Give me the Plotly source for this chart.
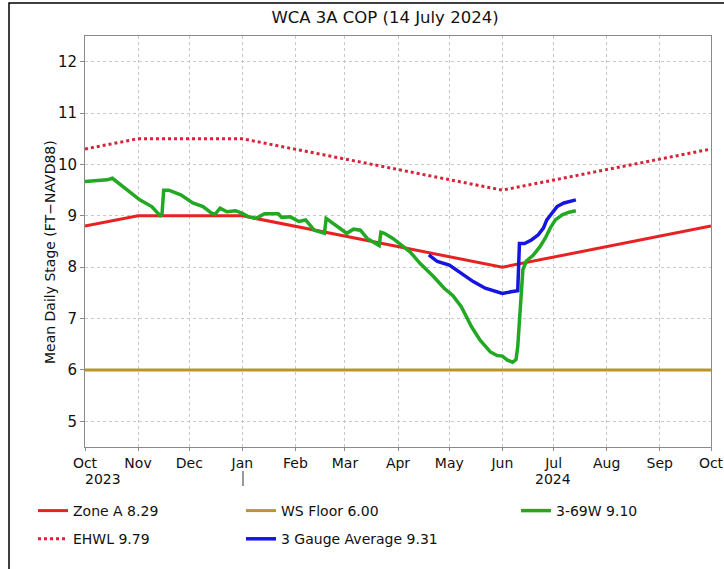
import plotly.graph_objects as go

# ---- data -------------------------------------------------------------
month_ticks = ["2023-10-01", "2023-11-01", "2023-12-01", "2024-01-01", "2024-02-01",
               "2024-03-01", "2024-04-01", "2024-05-01", "2024-06-01", "2024-07-01",
               "2024-08-01", "2024-09-01", "2024-10-01"]
month_labels = ["Oct", "Nov", "Dec", "Jan", "Feb", "Mar", "Apr", "May", "Jun", "Jul",
                "Aug", "Sep", "Oct"]

# regulation schedule breakpoints
sched_dates = ["2023-10-01", "2023-11-01", "2024-01-01", "2024-06-01", "2024-10-01"]
zone_a = [8.8, 9.0, 9.0, 8.0, 8.8]
ehwl = [10.3, 10.5, 10.5, 9.5, 10.3]

floor_dates = ["2023-10-01", "2024-10-01"]
ws_floor = [6.0, 6.0]

# gauge 3-69W mean daily stage
g369_dates = ["2023-10-01", "2023-10-10", "2023-10-14", "2023-10-17", "2023-10-23",
              "2023-10-28", "2023-11-02", "2023-11-09", "2023-11-12", "2023-11-14",
              "2023-11-15", "2023-11-16", "2023-11-19", "2023-11-26", "2023-12-03",
              "2023-12-09", "2023-12-14", "2023-12-16", "2023-12-19", "2023-12-23",
              "2023-12-28", "2024-01-01", "2024-01-04", "2024-01-09", "2024-01-14",
              "2024-01-22", "2024-01-24", "2024-01-29", "2024-02-03", "2024-02-07",
              "2024-02-12", "2024-02-18", "2024-02-19", "2024-02-26", "2024-03-02",
              "2024-03-06", "2024-03-10", "2024-03-14", "2024-03-21", "2024-03-22",
              "2024-03-24", "2024-03-29", "2024-04-04", "2024-04-08", "2024-04-14",
              "2024-04-22", "2024-04-28", "2024-05-03", "2024-05-08", "2024-05-14",
              "2024-05-19", "2024-05-25", "2024-05-29", "2024-06-01", "2024-06-04",
              "2024-06-07", "2024-06-09", "2024-06-10", "2024-06-11", "2024-06-12",
              "2024-06-13", "2024-06-15", "2024-06-19", "2024-06-23", "2024-06-26",
              "2024-06-29", "2024-07-02", "2024-07-06", "2024-07-10", "2024-07-14"]
g369 = [9.67, 9.68, 9.70, 9.73, 9.57,
        9.45, 9.31, 9.18, 9.08, 9.00,
        9.02, 9.50, 9.50, 9.41, 9.25,
        9.18, 9.05, 9.03, 9.15, 9.08,
        9.10, 9.05, 8.99, 8.95, 9.04,
        9.04, 8.97, 8.98, 8.89, 8.92,
        8.72, 8.66, 8.95, 8.79, 8.66,
        8.74, 8.72, 8.56, 8.42, 8.68,
        8.66, 8.56, 8.40, 8.30, 8.07,
        7.81, 7.59, 7.45, 7.23, 6.84,
        6.58, 6.35, 6.28, 6.27, 6.19,
        6.15, 6.20, 6.45, 6.95, 7.55,
        7.95, 8.12, 8.23, 8.40, 8.56,
        8.76, 8.92, 9.02, 9.07, 9.10]

# three gauge average
avg_dates = ["2024-04-19", "2024-04-24", "2024-05-01", "2024-05-08", "2024-05-15",
             "2024-05-22", "2024-05-27", "2024-06-01", "2024-06-06", "2024-06-10",
             "2024-06-11", "2024-06-14", "2024-06-18", "2024-06-22", "2024-06-25",
             "2024-06-27", "2024-06-30", "2024-07-03", "2024-07-07", "2024-07-11",
             "2024-07-14"]
avg3 = [8.24, 8.11, 8.04, 7.88, 7.72,
        7.59, 7.54, 7.49, 7.52, 7.54,
        8.46, 8.46, 8.53, 8.63, 8.76,
        8.92, 9.05, 9.18, 9.25, 9.29,
        9.31]

# ---- layout geometry (pixels) -----------------------------------------
W, H = 724, 569
L, R, T, B = 85, 711, 36, 447
PW, PH = R - L, B - T


def px(x):
    return (x - L) / PW


def py(y):
    return (B - y) / PH


FONT = "DejaVu Sans"

fig = go.Figure()

fig.add_trace(go.Scatter(x=floor_dates, y=ws_floor, mode="lines", name="WS Floor 6.00",
                         line=dict(color="#b8962c", width=3), legend="legend2",
                         legendgroup="b1"))
fig.add_trace(go.Scatter(x=sched_dates, y=zone_a, mode="lines", name="Zone A 8.29",
                         line=dict(color="#e62222", width=3), legend="legend",
                         legendgroup="a1"))
fig.add_trace(go.Scatter(x=sched_dates, y=ehwl, mode="lines", name="EHWL 9.79",
                         line=dict(color="#d4243a", width=3, dash="dot"), legend="legend",
                         legendgroup="a2"))
fig.add_trace(go.Scatter(x=g369_dates, y=g369, mode="lines", name="3-69W 9.10",
                         line=dict(color="#22a822", width=3.5), legend="legend3",
                         legendgroup="c1"))
fig.add_trace(go.Scatter(x=avg_dates, y=avg3, mode="lines", name="3 Gauge Average 9.31",
                         line=dict(color="#1515e0", width=3.5), legend="legend2",
                         legendgroup="b2"))

legend_common = dict(orientation="v", xanchor="left", yanchor="top",
                     font=dict(family=FONT, size=14, color="#111"),
                     bgcolor="rgba(0,0,0,0)", tracegroupgap=7, itemwidth=30)

fig.update_layout(
    width=W, height=H,
    margin=dict(l=L, r=W - R, t=T, b=H - B, autoexpand=False),
    paper_bgcolor="white", plot_bgcolor="white",
    font=dict(family=FONT, color="#111"),
    title=dict(text="WCA 3A COP (14 July 2024)", x=px(385), xanchor="center",
               y=1 - 17 / H, yanchor="middle", xref="paper",
               font=dict(family=FONT, size=16.5, color="#111")),
    xaxis=dict(range=["2023-10-01", "2024-10-01"], tickvals=month_ticks,
               ticktext=month_labels, showgrid=True, gridcolor="#c8c8c8",
               griddash="dot", gridwidth=1, showline=True, linecolor="#8a8a8a",
               linewidth=1, mirror=True, ticks="outside", ticklen=3,
               tickcolor="#8a8a8a", tickfont=dict(family=FONT, size=14, color="#111"),
               zeroline=False, automargin=False),
    yaxis=dict(range=[4.5, 12.5], tickvals=[5, 6, 7, 8, 9, 10, 11, 12],
               showgrid=True, gridcolor="#c8c8c8", griddash="dot", gridwidth=1,
               showline=True, linecolor="#8a8a8a", linewidth=1, mirror=True,
               ticks="outside", ticklen=4, tickcolor="#8a8a8a",
               tickfont=dict(family=FONT, size=15, color="#111"), zeroline=False,
               automargin=False),
    legend=dict(x=px(33), y=py(495), **legend_common),
    legend2=dict(x=px(241), y=py(495), **legend_common),
    legend3=dict(x=px(516), y=py(495), **legend_common),
    showlegend=True,
)

# outer frame
fig.add_shape(type="rect", xref="paper", yref="paper",
              x0=px(9), x1=px(760), y0=py(600), y1=py(3),
              line=dict(color="black", width=1.5), fillcolor="rgba(0,0,0,0)",
              layer="below")

# year labels and separator under the month axis
fig.add_annotation(text="2023", xref="paper", yref="paper", x=px(103), y=py(479),
                   showarrow=False, font=dict(family=FONT, size=14, color="#111"),
                   xanchor="center", yanchor="middle")
fig.add_annotation(text="2024", xref="paper", yref="paper", x=px(553), y=py(479),
                   showarrow=False, font=dict(family=FONT, size=14, color="#111"),
                   xanchor="center", yanchor="middle")
fig.add_shape(type="line", xref="paper", yref="paper", x0=px(243), x1=px(243),
              y0=py(471), y1=py(486), line=dict(color="#333", width=1))

# y axis title
fig.add_annotation(text="Mean Daily Stage (FT\u2212NAVD88)", xref="paper", yref="paper",
                   x=px(50), y=py(252), textangle=-90, showarrow=False,
                   font=dict(family=FONT, size=14, color="#111"),
                   xanchor="center", yanchor="middle")

fig.write_html("out.html")
